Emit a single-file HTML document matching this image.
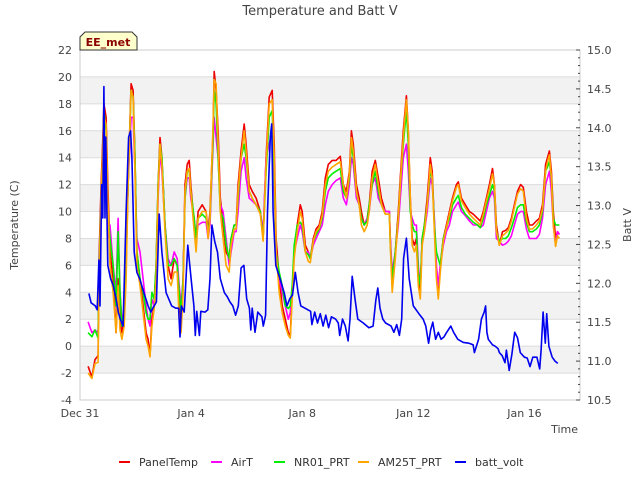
<!DOCTYPE html>
<html><head><meta charset="utf-8"><style>
body{margin:0;background:#fff;}
svg{font-family:"DejaVu Sans","Liberation Sans",sans-serif;}
</style></head><body>
<svg id="chart" width="640" height="480" xmlns="http://www.w3.org/2000/svg">
<rect width="640" height="480" fill="#fff"/>
<text x="320" y="15" text-anchor="middle" font-size="13" fill="#444">Temperature and Batt V</text>
<g id="bands"></g>
<g id="grid"></g>
<rect x="80" y="50" width="500" height="350" fill="none" stroke="#ccc"/>
<g id="axes"></g>
<g id="series"></g>
<g>
<path d="M80,50 L80,37 L85,32 L132,32 L137,37 L137,50 Z" fill="#ffffcc" stroke="#333"/>
<text x="108" y="46" text-anchor="middle" font-size="11" font-weight="bold" fill="#8b0000">EE_met</text>
</g>
<text transform="translate(18,225) rotate(-90)" text-anchor="middle" font-size="11" fill="#444">Temperature (C)</text>
<text transform="translate(631,225) rotate(-90)" text-anchor="middle" font-size="11" fill="#444">Batt V</text>
<text x="578" y="433" text-anchor="end" font-size="11" fill="#444">Time</text>
<g id="legend"></g>
</svg>
<script>
const xTickLabels=["Dec 31","Jan 4","Jan 8","Jan 12","Jan 16"];
const xTickDays=[0,4,8,12,16];
const yTicks=[-4,-2,0,2,4,6,8,10,12,14,16,18,20,22];
const y2Ticks=["10.5","11.0","11.5","12.0","12.5","13.0","13.5","14.0","14.5","15.0"];
const seriesNames=["PanelTemp","AirT","NR01_PRT","AM25T_PRT","batt_volt"];
const seriesColors=["#ee0000","#ff00ff","#00ee00","#ffa500","#0000ee"];
const tempTime=[0.29,0.43,0.54,0.65,0.68,0.76,0.83,0.86,0.94,1.0,
1.08,1.19,1.3,1.37,1.44,1.51,1.59,1.66,1.73,1.84,
1.91,1.98,2.05,2.16,2.27,2.38,2.45,2.52,2.59,2.67,
2.74,2.81,2.88,2.95,3.06,3.17,3.28,3.39,3.5,3.57,
3.64,3.71,3.78,3.86,3.93,3.99,4.11,4.18,4.25,4.4,
4.54,4.61,4.68,4.79,4.83,4.9,4.97,5.05,5.15,5.26,
5.37,5.44,5.55,5.62,5.69,5.8,5.91,5.98,6.09,6.2,
6.34,6.49,6.59,6.7,6.81,6.92,6.99,7.06,7.17,7.28,
7.39,7.5,7.57,7.64,7.71,7.82,7.93,8.0,8.11,8.22,
8.29,8.4,8.5,8.61,8.72,8.83,8.94,9.08,9.22,9.37,
9.48,9.59,9.7,9.77,9.84,9.95,10.05,10.13,10.23,10.34,
10.41,10.52,10.63,10.74,10.85,10.99,11.14,11.17,11.24,11.35,
11.46,11.53,11.64,11.75,11.82,11.89,11.96,12.04,12.11,12.18,
12.25,12.32,12.4,12.5,12.61,12.68,12.76,12.83,12.9,12.97,
13.08,13.19,13.3,13.41,13.55,13.62,13.73,13.87,14.02,14.16,
14.31,14.41,14.52,14.63,14.74,14.85,14.92,14.99,15.1,15.21,
15.32,15.42,15.53,15.64,15.75,15.86,15.96,16.07,16.18,16.29,
16.43,16.54,16.65,16.76,16.83,16.9,16.97,17.04,17.12,17.19,17.26];
const panelTemp=[-1.5,-2.3,-1,-0.7,6,12,16,18,17,12,
7,5,1,5,2,1,2,6,12,19.5,
19,14,7,5,3,1,0.5,-0.7,2,3,
6,12,15.5,14,9,6,5,6.5,6,3,
2,5,12,13.5,13.8,12,9,8,10,10.5,
10,8.5,10,16,20.4,19,16,11,9,7,
6.5,8,9,9,12,14.5,16.5,15,12,11.5,
11,10,8,14,18.5,19,15,8,5,3,
2,1,0.8,4,7,9,10.5,10,7.5,7,
6.5,8,8.7,9,10,12.5,13.5,13.8,13.8,14.1,
12,11.5,13,16,15,12,11,10,9,9.5,
10.5,13,13.8,12.5,11,10,10,8,4.5,7,
10,12.5,16,18.6,16,11,8,7.5,8,5,
4,8,9,11,14,13,9,5.5,4,6,
8,9,10,11,12,12.2,11,10.5,10,9.8,
9.5,9.3,10,11,12,13.2,12,9,7.5,8.5,
8.6,8.8,9.5,10.5,11.5,12,11.8,10,9,9,
9.3,9.5,10.5,13.5,14,14.5,13,10,8,8.5,8.3];
const airT=[1.8,1,1.2,1,5,11,15,15.5,14,8,
9,6,4,9.5,4,2,2.5,7,12,17,
17,13,8,7,5,3,2,1.5,3.5,3,
5,11,14.5,13,9,6.5,6,7,6.5,4.5,
3,5,11,12.5,12.5,11,9.5,8,9,9.2,
9.2,8,9,15,17,15.5,14,10.5,10,8,
6,7,8.5,8.5,10,13,14,12.5,11,10.8,
10.5,10,8.5,14,15,16,12,7,5,4,
3,2,2.5,4,7,8,9,8.5,7,7,
6.5,7.5,8,8.5,9,10.5,11.5,12,12.3,12.5,
11,10.5,12,14,13.5,11,10.5,9.5,9,9.5,
10,12,12.5,11,10.5,10,10,8,5.5,7,
9,11,14,15,13,10,9.5,9,9,6,
4.5,8,8.5,10,12.5,12,9.5,6,4.5,6,
7.5,8.5,9,10,10.5,10.7,10,9.7,9.3,9,
9,8.8,9,10,11,11.5,11,8,7.8,7.5,
7.6,7.8,8.2,9,9.8,10,10,8.7,8,8,
8,8.3,9.5,12,12.5,13,11.5,9,7.5,8.5,8.3];
const nr01Prt=[1,0.7,1.2,0.6,5,11,15,17.5,16,10,
8,6,3,8.5,4,1.5,2.5,7,12,19,
18.5,14,7,5,4,2.5,2,2,4,3.5,
6,12,15,14,9,6,6,6.5,6,4,
2.5,5,11,13,13,11.5,9.5,8,9.5,9.8,
9.5,8.5,9.5,15.5,19,18,14,10,9.5,7.5,
6.5,8,9,9,11,14,15,14,11.5,11,
10.5,10,8,13,17,17.5,13,7,5.5,4.5,
3,2.8,3,4.5,7.5,9,9.2,9,7,6.8,
6.5,7.8,8.3,8.7,9.5,11.5,12.5,12.8,13,13.2,
11.5,11,12.5,15,14,11.5,10.5,9.5,9,9.3,
10.5,12,13,11.5,10.5,9.8,9.8,7.5,5,7,
9.5,12,15,17.5,15,10,9,8.5,8.5,5.5,
4.5,8,9,10.5,13,12.5,9,7,6.5,6,
8,8.8,9.5,10.5,11,11.2,10.3,9.8,9.5,9.2,
9,8.8,9.5,10.5,11.2,12,11.5,8.5,7.8,8,
8,8.2,8.8,9.5,10.3,10.5,10.5,9.2,8.5,8.5,
8.7,9,10,13,13.3,13.7,12.5,9.5,9,9,9];
const am25tPrt=[-2,-2.4,-1.3,-1.2,4,11,15.5,17,16.5,11,
6,4,1,4.5,1.2,0.5,1.5,5,12,19,
18.5,13,6,4.5,2.5,0.5,0,-0.8,1.5,2.8,
5,11.5,15,13.5,8.5,5,4.5,5.5,5.5,2,
1,4,11.5,13,13.2,11.5,8.5,7,9.5,10,
10,8,9.5,16.5,19.8,19.5,15,10,8,6,
5.5,7.5,8.7,8.7,11.5,14,16,14.5,11.5,11,
10.5,9.8,7.8,13.5,18,18.3,14,7,4,2.5,
1.5,0.8,0.6,3.5,6.5,8.5,10,9.5,7,6.3,
6.2,7.8,8.5,8.8,9.7,12,13,13.3,13.5,13.7,
12,11,12.8,15.5,14.5,11.5,10.5,9,8.5,9,
10,12.5,13.5,12,10.5,9.8,9.8,7.5,4,6.5,
9.5,12,15.5,18.3,16,11,7.5,7,7.5,4.5,
3.5,7.5,8.5,10.5,13.5,12.5,8.5,5,3.5,5.5,
7.8,8.8,9.8,10.8,11.8,12,10.8,10.3,9.8,9.5,
9.2,9,9.8,10.8,11.7,12.8,12,8.5,7.5,8.2,
8.4,8.6,9.3,10.3,11.3,11.7,11.5,9.5,8.7,8.7,
9,9.3,10.2,13,13.7,14.2,12.5,9,7.4,8.2,8];
const battTime=[0.32,0.4,0.55,0.62,0.68,0.72,0.78,0.82,0.86,0.9,0.93,0.97,1.0,1.1,1.2,1.3,1.38,1.45,1.55,1.66,1.75,1.82,1.87,1.95,2.05,2.15,2.3,2.45,2.55,2.62,2.75,2.85,2.95,3.1,3.3,3.45,3.55,3.6,3.65,3.75,3.88,4.0,4.1,4.15,4.2,4.3,4.35,4.5,4.6,4.68,4.75,4.85,4.95,5.05,5.2,5.3,5.4,5.5,5.6,5.7,5.8,5.9,6.0,6.1,6.15,6.2,6.3,6.4,6.55,6.6,6.68,6.75,6.85,6.9,6.95,7.05,7.2,7.35,7.45,7.55,7.65,7.75,7.85,7.95,8.1,8.3,8.35,8.45,8.55,8.65,8.75,8.85,8.95,9.05,9.2,9.3,9.35,9.45,9.55,9.65,9.72,9.8,9.9,10.0,10.2,10.4,10.55,10.65,10.72,10.8,10.9,11.0,11.2,11.3,11.4,11.5,11.58,11.65,11.75,11.85,12.0,12.2,12.35,12.45,12.55,12.62,12.7,12.8,12.9,13.0,13.1,13.2,13.35,13.45,13.6,13.8,14.0,14.15,14.2,14.35,14.45,14.55,14.6,14.65,14.7,14.85,14.95,15.05,15.1,15.2,15.3,15.35,15.45,15.55,15.65,15.75,15.85,16.0,16.1,16.2,16.3,16.45,16.55,16.6,16.67,16.75,16.8,16.88,17.0,17.1,17.2];
const battVolt=[11.87,11.75,11.71,11.66,12.30,11.71,13.27,12.84,14.53,12.84,13.88,12.92,12.23,12.06,11.97,11.80,11.63,11.54,11.45,12.92,13.88,13.96,13.62,12.40,12.14,12.06,11.88,11.71,11.63,11.68,11.76,12.89,12.40,11.88,11.71,11.68,11.68,11.31,11.71,11.63,12.49,12.06,11.71,11.33,11.64,11.33,11.64,11.63,11.66,12.06,12.75,12.54,12.40,12.06,11.88,11.83,11.76,11.71,11.59,11.71,12.20,12.23,11.80,11.68,11.40,11.68,11.37,11.63,11.57,11.45,11.59,12.92,13.88,14.05,12.92,12.23,12.06,11.88,11.71,11.80,11.85,12.14,11.88,11.71,11.68,11.64,11.47,11.63,11.49,11.61,11.45,11.59,11.43,11.57,11.54,11.49,11.33,11.54,11.45,11.26,11.54,12.09,11.80,11.54,11.49,11.43,11.45,11.78,11.94,11.68,11.54,11.49,11.45,11.37,11.47,11.33,11.54,12.32,12.58,12.06,11.71,11.61,11.54,11.45,11.23,11.40,11.50,11.28,11.37,11.28,11.31,11.37,11.45,11.37,11.28,11.24,11.23,11.21,11.11,11.28,11.54,11.63,11.71,11.37,11.28,11.21,11.19,11.16,11.11,11.07,10.98,11.14,10.88,11.09,11.37,11.30,11.11,11.05,11.04,10.93,11.05,11.05,10.90,11.14,11.63,11.23,11.61,11.19,11.05,11.00,10.97];

const NS="http://www.w3.org/2000/svg";
const L=80,R=580,T=50,B=400;
function xs(d){return L+(d/18)*(R-L);}
function ys(v){return B-(v+4)/26*(B-T);}
function y2s(v){return B-(v-10.5)/4.5*(B-T);}
function mk(tag,attrs,parent){const e=document.createElementNS(NS,tag);for(const k in attrs)e.setAttribute(k,attrs[k]);parent.appendChild(e);return e;}
const bands=document.getElementById('bands'),grid=document.getElementById('grid'),axes=document.getElementById('axes'),series=document.getElementById('series'),legend=document.getElementById('legend');
for(let v=-2;v<22;v+=4){const r=mk('rect',{x:L,y:ys(v+2),width:R-L,height:ys(v)-ys(v+2),fill:'#f2f2f2'},bands);

}
yTicks.forEach(v=>{const l=mk('line',{x1:L,x2:R,y1:ys(v),y2:ys(v),stroke:'#dcdcdc'},grid);


const t=mk('text',{x:L-8,y:ys(v)+4,'text-anchor':'end','font-size':'11',fill:'#444'},axes);t.textContent=v;

});
y2Ticks.forEach(s=>{const v=parseFloat(s);const t=mk('text',{x:R+7,y:y2s(v)+4,'font-size':'11',fill:'#444'},axes);t.textContent=s;


mk('line',{x1:R-4,x2:R,y1:y2s(v),y2:y2s(v),stroke:'#444'},axes);});
for(let i=0;i<=45;i++){const v=10.5+i*0.1;if(i%5)mk('line',{x1:R-2,x2:R,y1:y2s(v),y2:y2s(v),stroke:'#444'},axes);}
xTickDays.forEach((d,i)=>{const t=mk('text',{x:xs(d),y:B+17,'text-anchor':'middle','font-size':'11',fill:'#444'},axes);t.textContent=xTickLabels[i];

});
function line(xsArr,ysArr,sc,color,name){let d='';for(let i=0;i<xsArr.length;i++)d+=(i?'L':'M')+xs(xsArr[i]).toFixed(1)+','+sc(ysArr[i]).toFixed(1);
const p=mk('path',{d:d,fill:'none',stroke:color,'stroke-width':'1.6','stroke-linejoin':'round'},series);

}
line(tempTime,panelTemp,ys,seriesColors[0],'paneltemp-line');
line(tempTime,airT,ys,seriesColors[1],'airt-line');
line(tempTime,nr01Prt,ys,seriesColors[2],'nr01-prt-line');
line(tempTime,am25tPrt,ys,seriesColors[3],'am25t-prt-line');
line(battTime,battVolt,y2s,seriesColors[4],'batt-volt-line');
const lx=[119,211,274,358,455];
seriesNames.forEach((n,i)=>{const g=mk('g',{},legend);


mk('line',{x1:lx[i],x2:lx[i]+11,y1:462,y2:462,stroke:seriesColors[i],'stroke-width':'2'},g);
const t=mk('text',{x:lx[i]+20,y:466,'font-size':'11',fill:'#333'},g);t.textContent=n;});
</script>
</body></html>
